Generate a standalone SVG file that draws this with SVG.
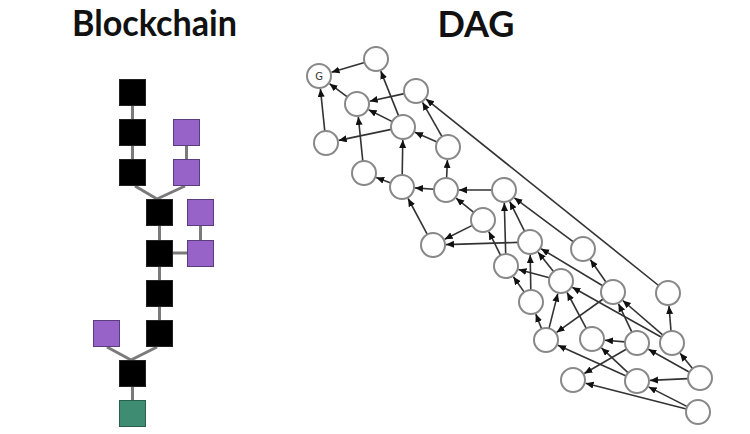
<svg xmlns="http://www.w3.org/2000/svg" width="750" height="434" viewBox="0 0 750 434">
<style>
.title{font-family:Lato,"Open Sans","Liberation Sans",sans-serif;font-weight:bold;font-size:36px;fill:#111}
.blk{fill:#000;stroke:#222;stroke-width:1}
.pur{fill:#9763c9;stroke:#5b3d7c;stroke-width:1}
.grn{fill:#3e8c72;stroke:#2b5f4d;stroke-width:1}
.bc{stroke:#7a7a7a;stroke-width:3;fill:none}
.nd{fill:#fff;stroke:#888;stroke-width:2}
.ed{stroke:#333;stroke-width:1.6;fill:none;marker-end:url(#ah)}
.gl{font-family:"DejaVu Sans",sans-serif;font-size:10px;fill:#333}
</style>
<defs>
<marker id="ah" markerUnits="userSpaceOnUse" markerWidth="9" markerHeight="8" refX="8" refY="3.5" orient="auto">
<path d="M0,0 L8,3.5 L0,7 z" fill="#111"/>
</marker>
</defs>
<rect width="750" height="434" fill="#fff"/>
<text class="title" x="154.5" y="36" text-anchor="middle" textLength="165" lengthAdjust="spacingAndGlyphs">Blockchain</text>
<text class="title" x="476" y="37" text-anchor="middle" textLength="77" lengthAdjust="spacingAndGlyphs">DAG</text>

<g id="blockchain-connectors">
<path class="bc" d="M132.5,106 V119 M132.5,146 V159 M186.5,146 V159 M135,186 L157,199 M185,186 L157,199 M159.5,226 V240 M200.5,226 V240 M173,253 H187 M159.5,267 V280 M159.5,307 V320 M157,347 L131,360 M107,347 L131,360 M132.5,387 V400"/>
</g>
<g id="b1"><rect class="blk" x="119.5" y="79.5" width="26" height="26"/></g>
<g id="b2"><rect class="blk" x="119.5" y="119.5" width="26" height="26"/></g>
<g id="b3"><rect class="blk" x="119.5" y="159.5" width="26" height="26"/></g>
<g id="p1"><rect class="pur" x="173.5" y="119.5" width="26" height="26"/></g>
<g id="p2"><rect class="pur" x="173.5" y="159.5" width="26" height="26"/></g>
<g id="b4"><rect class="blk" x="146.5" y="199.5" width="26" height="26"/></g>
<g id="p3"><rect class="pur" x="187.5" y="199.5" width="26" height="26"/></g>
<g id="b5"><rect class="blk" x="146.5" y="240.5" width="26" height="26"/></g>
<g id="p4"><rect class="pur" x="187.5" y="240.5" width="26" height="26"/></g>
<g id="b6"><rect class="blk" x="146.5" y="280.5" width="26" height="26"/></g>
<g id="b7"><rect class="blk" x="146.5" y="320.5" width="26" height="26"/></g>
<g id="p5"><rect class="pur" x="93.5" y="320.5" width="26" height="26"/></g>
<g id="b8"><rect class="blk" x="119.5" y="360.5" width="26" height="26"/></g>
<g id="genesis-block"><rect class="grn" x="119.5" y="400.5" width="26" height="26"/></g>

<g id="dag-edges">
<line class="ed" x1="364.5" y1="62.4" x2="331.5" y2="72.3"/>
<line class="ed" x1="347.3" y1="96.9" x2="329.5" y2="83.7"/>
<line class="ed" x1="324.8" y1="131.1" x2="320.4" y2="88.9"/>
<line class="ed" x1="404.3" y1="93.6" x2="369.7" y2="101.2"/>
<line class="ed" x1="392.3" y1="121.6" x2="368.6" y2="109.8"/>
<line class="ed" x1="398.6" y1="115.9" x2="380.8" y2="71.1"/>
<line class="ed" x1="391.3" y1="129.4" x2="338.7" y2="140.4"/>
<line class="ed" x1="437.0" y1="142.1" x2="414.9" y2="132.3"/>
<line class="ed" x1="442.0" y1="136.6" x2="422.5" y2="102.3"/>
<line class="ed" x1="658.6" y1="285.5" x2="426.1" y2="99.1"/>
<line class="ed" x1="362.8" y1="161.1" x2="358.3" y2="116.9"/>
<line class="ed" x1="390.7" y1="182.9" x2="376.2" y2="177.5"/>
<line class="ed" x1="402.2" y1="175" x2="402.8" y2="140"/>
<line class="ed" x1="434.0" y1="189.2" x2="415.0" y2="187.9"/>
<line class="ed" x1="446.6" y1="178.0" x2="447.4" y2="160.0"/>
<line class="ed" x1="492" y1="190" x2="459" y2="190"/>
<line class="ed" x1="473.7" y1="212.4" x2="456.1" y2="198.2"/>
<line class="ed" x1="427.3" y1="234.4" x2="408.1" y2="198.5"/>
<line class="ed" x1="472.3" y1="225.4" x2="444.6" y2="239.2"/>
<line class="ed" x1="518.0" y1="242.4" x2="446.0" y2="244.6"/>
<line class="ed" x1="500.6" y1="255.3" x2="488.8" y2="231.6"/>
<line class="ed" x1="505.7" y1="254.0" x2="504.3" y2="203.0"/>
<line class="ed" x1="524.6" y1="231.3" x2="509.8" y2="201.6"/>
<line class="ed" x1="573.4" y1="241.8" x2="514.4" y2="197.8"/>
<line class="ed" x1="530.8" y1="290" x2="530.2" y2="255"/>
<line class="ed" x1="553.5" y1="271.6" x2="538.1" y2="252.2"/>
<line class="ed" x1="602.7" y1="285.8" x2="541.1" y2="248.7"/>
<line class="ed" x1="549.4" y1="277.8" x2="518.5" y2="269.4"/>
<line class="ed" x1="524.2" y1="292.1" x2="513.4" y2="276.7"/>
<line class="ed" x1="606.1" y1="282.2" x2="590.4" y2="259.7"/>
<line class="ed" x1="671.0" y1="331.0" x2="669.0" y2="306.0"/>
<line class="ed" x1="631.9" y1="332.1" x2="618.5" y2="303.8"/>
<line class="ed" x1="662.9" y1="335.2" x2="622.8" y2="300.5"/>
<line class="ed" x1="661.5" y1="337.2" x2="572.3" y2="287.3"/>
<line class="ed" x1="586.3" y1="328.4" x2="567.1" y2="292.5"/>
<line class="ed" x1="549.0" y1="328.4" x2="557.8" y2="293.6"/>
<line class="ed" x1="603.2" y1="299.0" x2="556.6" y2="332.4"/>
<line class="ed" x1="541.6" y1="328.8" x2="535.8" y2="314.1"/>
<line class="ed" x1="626.1" y1="376.1" x2="557.9" y2="345.3"/>
<line class="ed" x1="625.0" y1="341.9" x2="605.0" y2="340.2"/>
<line class="ed" x1="628.2" y1="372.8" x2="601.5" y2="347.9"/>
<line class="ed" x1="626.6" y1="349.0" x2="584.3" y2="373.5"/>
<line class="ed" x1="686.4" y1="409.0" x2="585.6" y2="383.2"/>
<line class="ed" x1="688.0" y1="378.6" x2="650.0" y2="380.4"/>
<line class="ed" x1="687.3" y1="406.6" x2="648.6" y2="386.9"/>
<line class="ed" x1="689.5" y1="372.2" x2="648.4" y2="349.3"/>
<line class="ed" x1="692.5" y1="368.6" x2="680.1" y2="353.2"/>
</g>

<g id="G"><circle class="nd" cx="319" cy="76" r="12"/><text class="gl" x="319" y="79.5" text-anchor="middle">G</text></g>
<g id="nA"><circle class="nd" cx="376" cy="59" r="12"/></g>
<g id="nB"><circle class="nd" cx="416" cy="91" r="12"/></g>
<g id="nC"><circle class="nd" cx="357" cy="104" r="12"/></g>
<g id="nD"><circle class="nd" cx="403" cy="127" r="12"/></g>
<g id="nE"><circle class="nd" cx="326" cy="143" r="12"/></g>
<g id="nF"><circle class="nd" cx="448" cy="147" r="12"/></g>
<g id="nH0"><circle class="nd" cx="364" cy="173" r="12"/></g>
<g id="nH"><circle class="nd" cx="402" cy="187" r="12"/></g>
<g id="nI"><circle class="nd" cx="446" cy="190" r="12"/></g>
<g id="nJ"><circle class="nd" cx="504" cy="190" r="12"/></g>
<g id="nK"><circle class="nd" cx="483" cy="220" r="12"/></g>
<g id="nL"><circle class="nd" cx="433" cy="245" r="12"/></g>
<g id="nM"><circle class="nd" cx="530" cy="242" r="12"/></g>
<g id="nP"><circle class="nd" cx="583" cy="249" r="12"/></g>
<g id="nN"><circle class="nd" cx="506" cy="266" r="12"/></g>
<g id="nO"><circle class="nd" cx="561" cy="281" r="12"/></g>
<g id="nQ"><circle class="nd" cx="613" cy="292" r="12"/></g>
<g id="nR"><circle class="nd" cx="668" cy="293" r="12"/></g>
<g id="nS"><circle class="nd" cx="531" cy="302" r="12"/></g>
<g id="nT"><circle class="nd" cx="546" cy="340" r="12"/></g>
<g id="nU"><circle class="nd" cx="592" cy="339" r="12"/></g>
<g id="nV"><circle class="nd" cx="637" cy="343" r="12"/></g>
<g id="nW"><circle class="nd" cx="672" cy="343" r="12"/></g>
<g id="nX"><circle class="nd" cx="573" cy="380" r="12"/></g>
<g id="nY"><circle class="nd" cx="637" cy="381" r="12"/></g>
<g id="nZ"><circle class="nd" cx="700" cy="378" r="12"/></g>
<g id="nAA"><circle class="nd" cx="698" cy="412" r="12"/></g>
</svg>
